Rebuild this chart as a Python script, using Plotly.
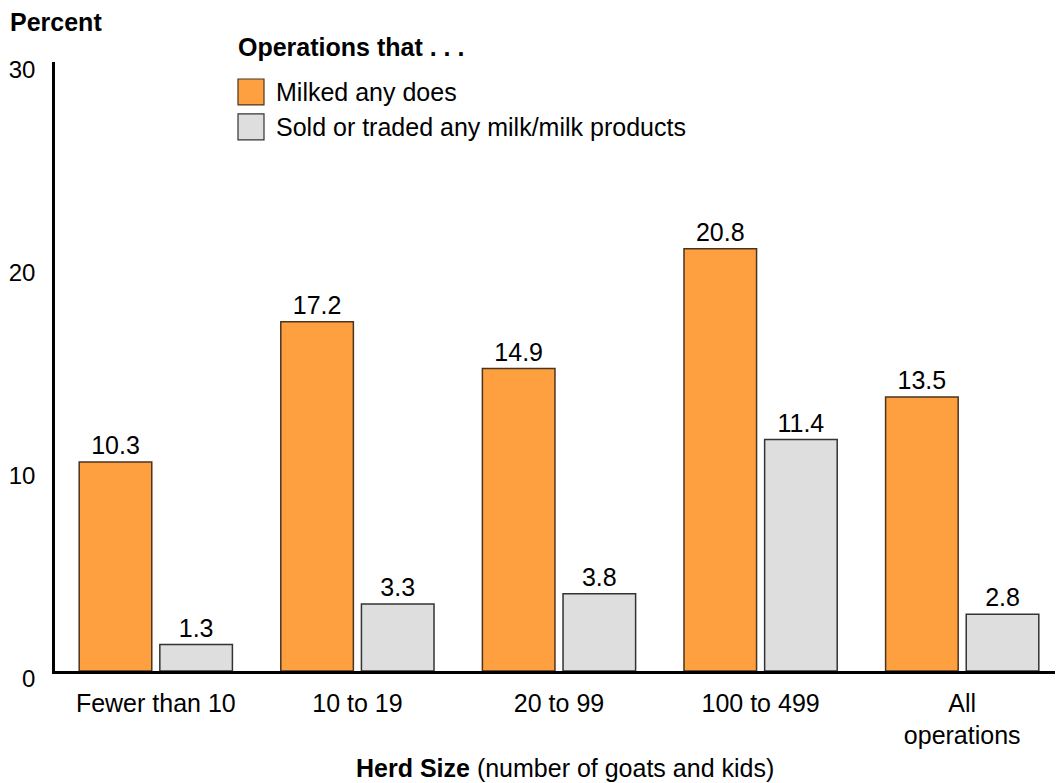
import plotly.graph_objects as go

categories = ["Fewer than 10", "10 to 19", "20 to 99", "100 to 499", "All<br>operations"]
milked = [10.3, 17.2, 14.9, 20.8, 13.5]
sold = [1.3, 3.3, 3.8, 11.4, 2.8]
series_names = ["Milked any does", "Sold or traded any milk/milk products"]
y_ticks = [0, 10, 20, 30]

ORANGE = "#FFA040"
GRAY = "#DEDEDE"
FONT = "Liberation Sans, Arial, sans-serif"
FS = 25

# page offset (body margin) of 8px
OFF = 8
W, H = 1063 - OFF, 783 - OFF
L, R, T = 55 - OFF, 0, 62 - OFF
B = H - (671.5 - OFF)
PW, PH = W - L - R, H - T - B


def px(x):
    """page x pixel -> paper fraction"""
    return (x - OFF - L) / PW


def py(y):
    """page y pixel -> paper fraction"""
    return (H - B - (y - OFF)) / PH


fig = go.Figure()
fig.add_trace(go.Bar(
    x=categories, y=milked, name=series_names[0],
    marker=dict(color=ORANGE, line=dict(color="#4a3420", width=1.5)),
    text=[f"{v:.1f}" for v in milked], textposition="outside",
    textfont=dict(size=FS, color="black", family=FONT), cliponaxis=False,
    showlegend=False,
))
fig.add_trace(go.Bar(
    x=categories, y=sold, name=series_names[1],
    marker=dict(color=GRAY, line=dict(color="#333333", width=1.5)),
    text=[f"{v:.1f}" for v in sold], textposition="outside",
    textfont=dict(size=FS, color="black", family=FONT), cliponaxis=False,
    showlegend=False,
))

shapes = []
annotations = []
for i, (col, lc) in enumerate([(ORANGE, "#4a3420"), (GRAY, "#333333")]):
    y0 = 79 + i * 35
    shapes.append(dict(type="rect", xref="paper", yref="paper",
                       x0=px(238), x1=px(264), y0=py(y0 + 26), y1=py(y0),
                       fillcolor=col, line=dict(color=lc, width=1.2)))
    annotations.append(dict(text=series_names[i], xref="paper", yref="paper",
                            x=px(274), y=py(y0 + 13), xanchor="left", yanchor="middle",
                            showarrow=False, font=dict(size=FS, color="black", family=FONT)))
annotations.append(dict(text="<b>Operations that . . .</b>", xref="paper", yref="paper",
                        x=px(236), y=py(47), xanchor="left", yanchor="middle",
                        showarrow=False, font=dict(size=FS, color="black", family=FONT)))
annotations.append(dict(text="<b>Percent</b>", xref="paper", yref="paper",
                        x=px(8), y=py(22), xanchor="left", yanchor="middle",
                        showarrow=False, font=dict(size=FS, color="black", family=FONT)))
annotations.append(dict(text="<b>Herd Size</b> (number of goats and kids)", xref="paper", yref="paper",
                        x=px(565), y=py(769), xanchor="center", yanchor="middle",
                        showarrow=False, font=dict(size=FS, color="black", family=FONT)))

fig.update_layout(
    width=W, height=H,
    margin=dict(l=L, r=R, t=T, b=B, pad=0),
    paper_bgcolor="white", plot_bgcolor="white",
    barmode="group", bargap=0.2, bargroupgap=0.1,
    font=dict(family=FONT, size=FS, color="black"),
    shapes=shapes, annotations=annotations,
    xaxis=dict(showline=True, linecolor="black", linewidth=2.5, showgrid=False,
               ticks="", tickfont=dict(size=FS), ticklabelstandoff=8, zeroline=False),
    yaxis=dict(range=[0, 30], tickvals=y_ticks, showline=True, linecolor="black", linewidth=2.5,
               showgrid=False, zeroline=False, ticks="", tickfont=dict(size=24),
               ticklabelstandoff=12, ticklabelshift=8),
)

fig.write_html("out.html")
